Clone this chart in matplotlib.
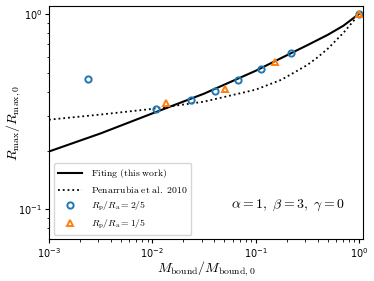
import numpy as np
import matplotlib
matplotlib.use('Agg')
import matplotlib.pyplot as plt

plt.rcParams['mathtext.fontset'] = 'cm'

# simulation points, R_p/R_a = 2/5
m_25 = [0.00239, 0.0109, 0.0236, 0.0407, 0.0671, 0.1135, 0.222, 1.0]
r_25 = [0.466, 0.326, 0.364, 0.405, 0.461, 0.524, 0.628, 1.0]
# simulation points, R_p/R_a = 1/5
m_15 = [0.0137, 0.0506, 0.153, 1.0]
r_15 = [0.350, 0.413, 0.567, 1.0]

# fitting curve (this work)
m_fit = [1e-3, 0.00316, 0.01, 0.0316, 0.1, 0.178, 0.316, 0.501, 0.708, 1.0]
r_fit = [0.198, 0.245, 0.310, 0.391, 0.512, 0.596, 0.692, 0.783, 0.871, 1.0]

# Penarrubia et al. 2010 curve
m_pen = [1e-3, 0.00316, 0.01, 0.0316, 0.1, 0.178, 0.316, 0.398, 0.501, 0.708, 0.891, 1.0]
r_pen = [0.288, 0.306, 0.327, 0.356, 0.410, 0.461, 0.548, 0.600, 0.665, 0.801, 0.924, 1.0]

fig = plt.figure(figsize=(3.74, 2.81), dpi=100)
ax = fig.add_axes([0.131, 0.148, 0.840, 0.831])

ax.plot(m_fit, r_fit, 'k-', lw=1.5, label=r'$\mathrm{Fiting\ (this\ work)}$')
ax.plot(m_pen, r_pen, 'k:', lw=1.3, label=r'$\mathrm{Penarrubia\ et\ al.\ 2010}$')
ax.plot(m_25, r_25, 'o', mfc='none', mec='C0', mew=1.4, ms=4.5,
        label=r'$R_{\rm p}/R_{\rm a}=2/5$')
ax.plot(m_15, r_15, '^', mfc='none', mec='C1', mew=1.4, ms=4.5,
        label=r'$R_{\rm p}/R_{\rm a}=1/5$')

ax.set_xscale('log')
ax.set_yscale('log')
ax.set_xlim(1e-3, 1.1)
ax.set_ylim(0.0703, 1.1)
ax.tick_params(which='major', labelsize=7, length=3, pad=2)
ax.tick_params(which='minor', length=1.8)

ax.set_xlabel(r'$M_{\rm bound}/M_{\rm bound,0}$', fontsize=10)
ax.set_ylabel(r'$R_{\rm max}/R_{\rm max,0}$', fontsize=10)
ax.xaxis.set_label_coords(0.5, -0.085)
ax.yaxis.set_label_coords(-0.083, 0.5)

ax.text(0.76, 0.147, r'$\alpha=1,\ \beta=3,\ \gamma=0$', transform=ax.transAxes,
        ha='center', va='center', fontsize=10)

ax.legend(loc='lower left', fontsize=7, handlelength=2.5, labelspacing=0.45,
          borderaxespad=0.5, handletextpad=0.9)

fig.savefig('out.png', dpi=100)
